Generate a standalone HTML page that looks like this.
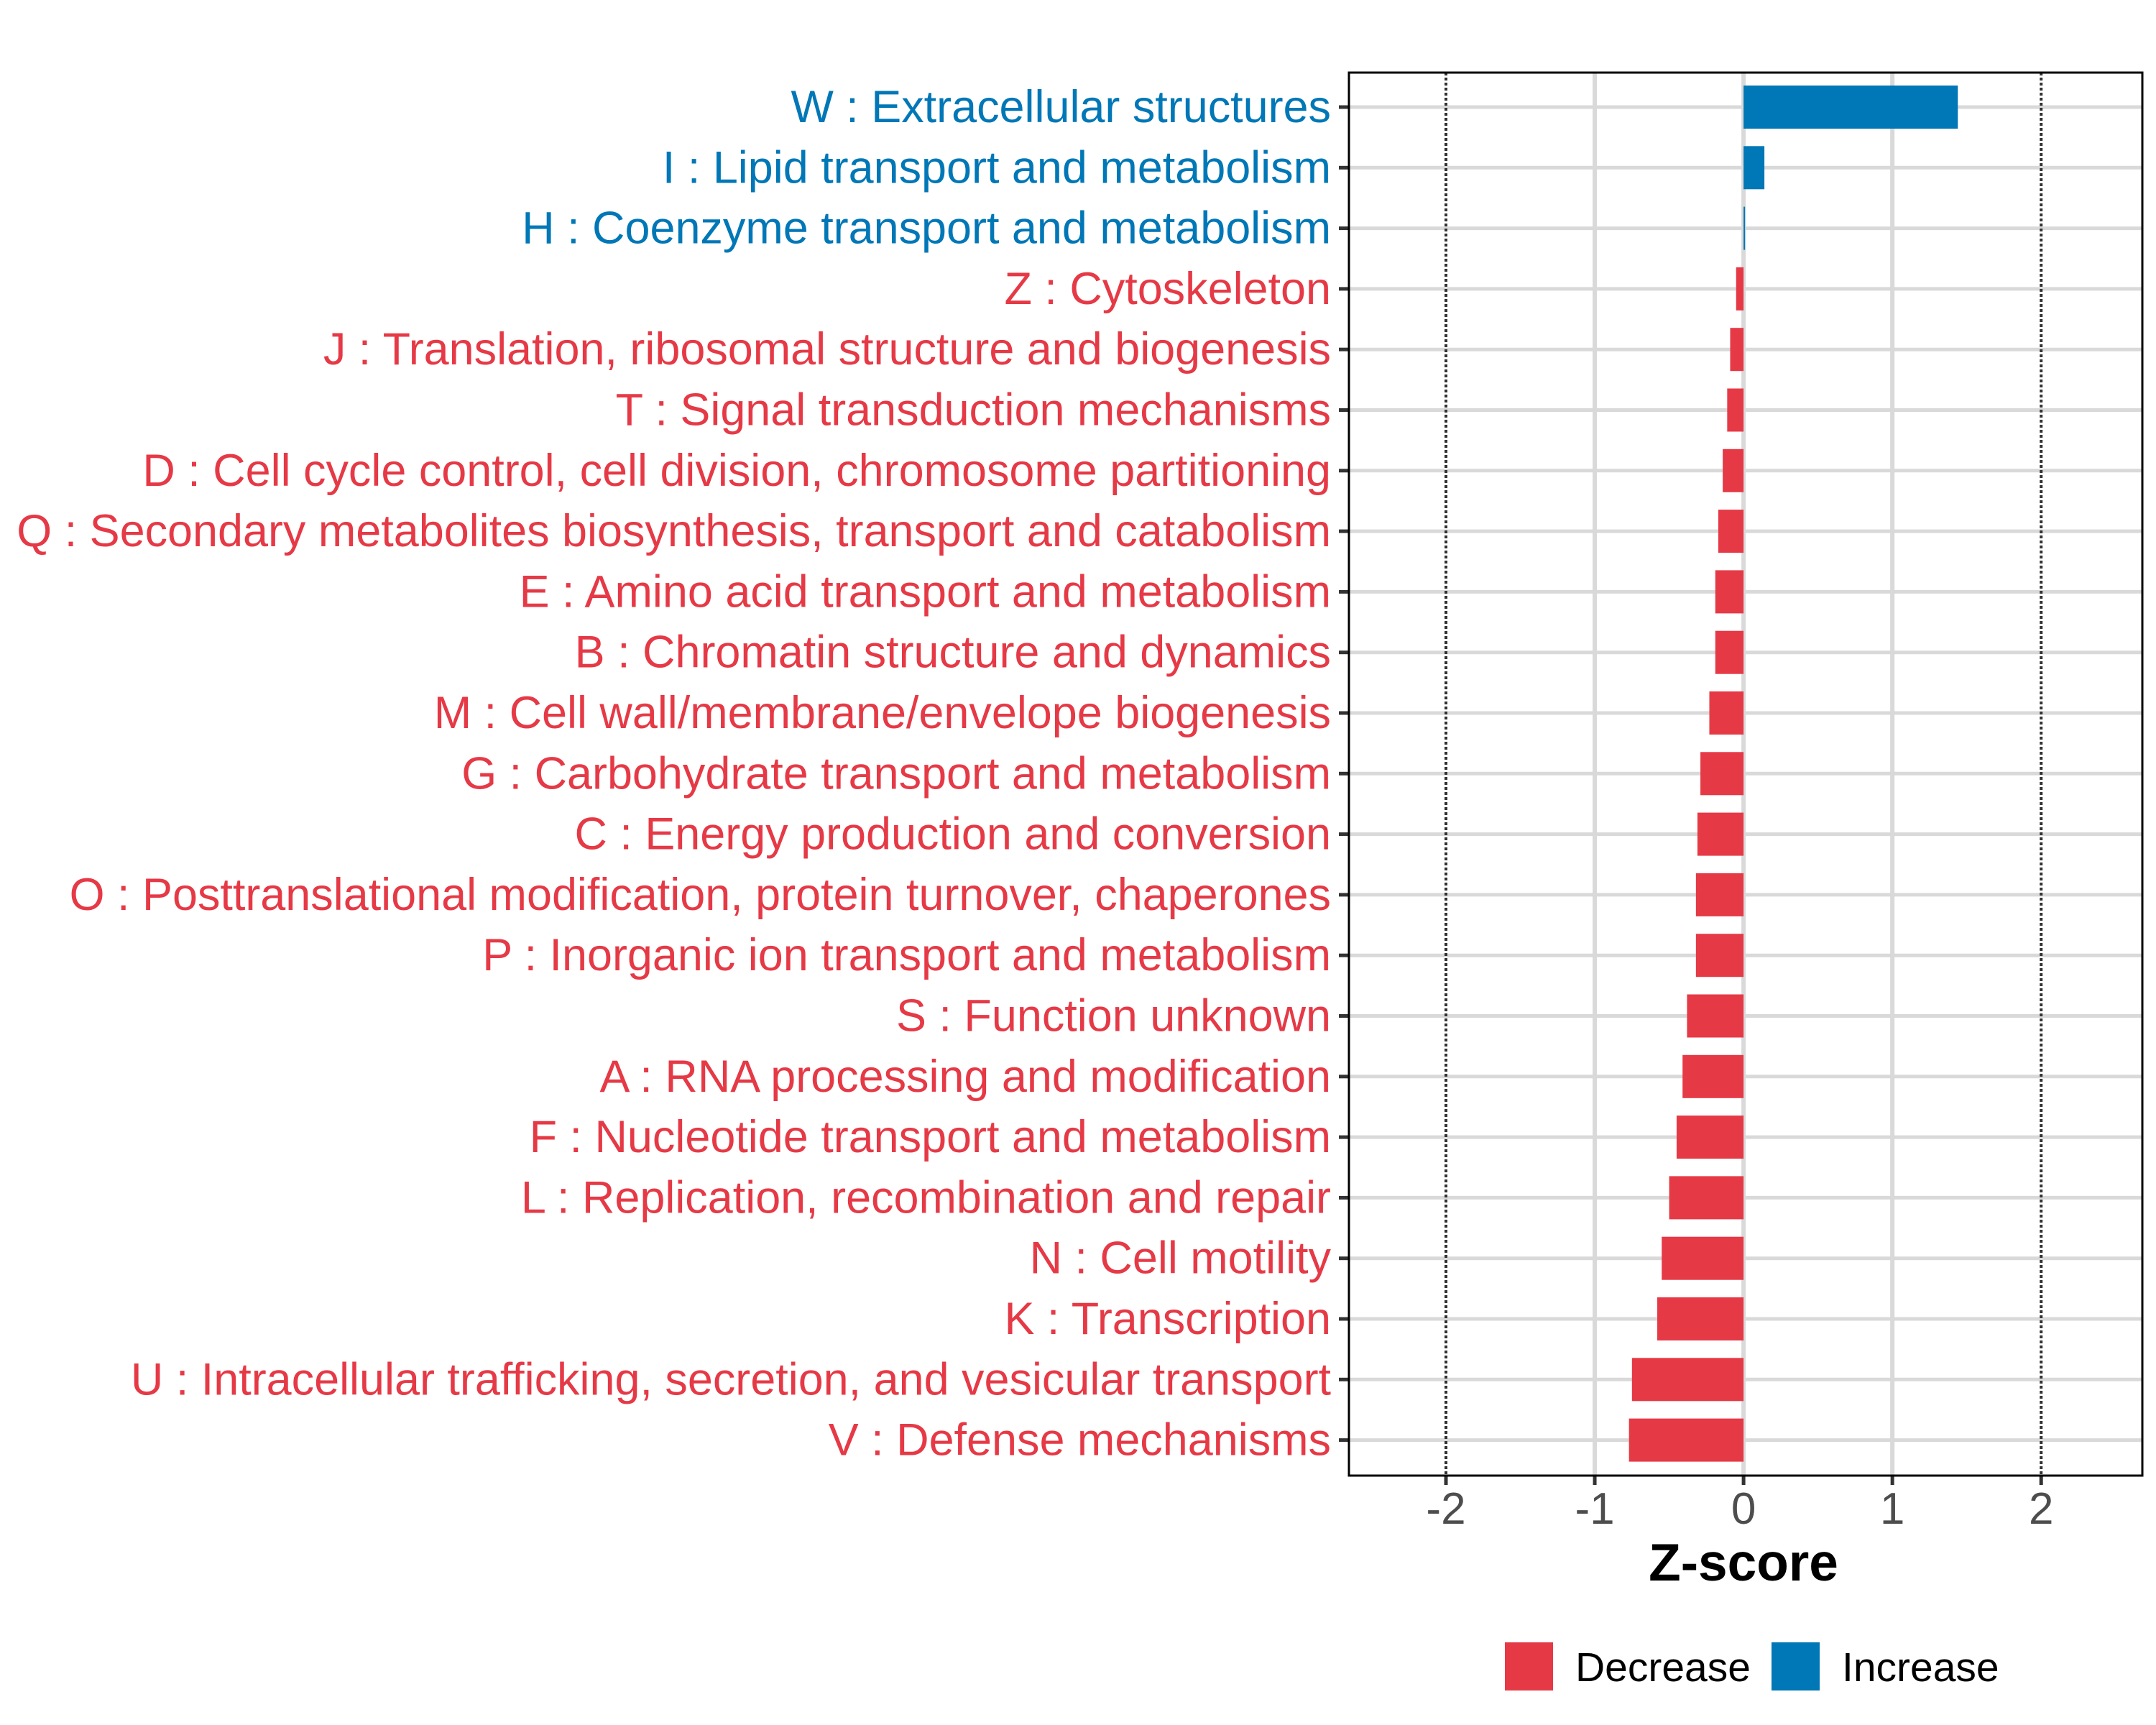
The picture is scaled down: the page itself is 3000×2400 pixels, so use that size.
<!DOCTYPE html>
<html><head><meta charset="utf-8"><style>
html,body{margin:0;padding:0;background:#fff;}
svg{display:block;font-family:"Liberation Sans",sans-serif;}
</style></head><body>
<svg id="chart" width="3000" height="2400" viewBox="0 0 3000 2400" xmlns="http://www.w3.org/2000/svg">
<rect width="3000" height="2400" fill="#fff"/>
<g id="grid"></g>
<g id="bars"></g>
<g id="ylabels"></g>
<g id="xaxis"></g>
<rect x="1877" y="101" width="1104" height="1952" fill="none" stroke="#000" stroke-width="3"/>
<text x="2426" y="2199" font-size="73" font-weight="bold" text-anchor="middle" fill="#000">Z-score</text>
<g>
<rect x="2094" y="2285" width="67" height="67" fill="#E63946"/>
<text x="2192" y="2339" font-size="57" fill="#000">Decrease</text>
<rect x="2465" y="2285" width="67" height="67" fill="#0077B6"/>
<text x="2563" y="2339" font-size="57" fill="#000">Increase</text>
</g>
</svg>
<script>
const categories = ["W : Extracellular structures","I : Lipid transport and metabolism","H : Coenzyme transport and metabolism","Z : Cytoskeleton","J : Translation, ribosomal structure and biogenesis","T : Signal transduction mechanisms","D : Cell cycle control, cell division, chromosome partitioning","Q : Secondary metabolites biosynthesis, transport and catabolism","E : Amino acid transport and metabolism","B : Chromatin structure and dynamics","M : Cell wall/membrane/envelope biogenesis","G : Carbohydrate transport and metabolism","C : Energy production and conversion","O : Posttranslational modification, protein turnover, chaperones","P : Inorganic ion transport and metabolism","S : Function unknown","A : RNA processing and modification","F : Nucleotide transport and metabolism","L : Replication, recombination and repair","N : Cell motility","K : Transcription","U : Intracellular trafficking, secretion, and vesicular transport","V : Defense mechanisms"];
const zscores = [1.44,0.14,0.01,-0.05,-0.09,-0.11,-0.14,-0.17,-0.19,-0.19,-0.23,-0.29,-0.31,-0.32,-0.32,-0.38,-0.41,-0.45,-0.50,-0.55,-0.58,-0.75,-0.77];
const xTicks = [-2,-1,0,1,2];
const xTickLabels = ["-2","-1","0","1","2"];
const thresholds = [-2,2];

const NS="http://www.w3.org/2000/svg";
const L=1877,R=2981,T=101,B=2053;
const xmin=-2.652,xmax=2.68;
function X(v){return L+(v-xmin)/(xmax-xmin)*(R-L);}
const step=84.3;
function Y(i){return 149+i*step;}
function mk(tag,attrs,parent){const e=document.createElementNS(NS,tag);for(const k in attrs)e.setAttribute(k,attrs[k]);parent.appendChild(e);return e;}
const grid=document.getElementById('grid'),bars=document.getElementById('bars'),yl=document.getElementById('ylabels'),xa=document.getElementById('xaxis');
const RED="#E63946",BLUE="#0077B6";
categories.forEach((c,i)=>{
  const g=mk('line',{x1:L,x2:R,y1:Y(i),y2:Y(i),stroke:"#d9d9d9","stroke-width":5},grid);
  
  
});
xTicks.forEach(v=>{
  if(thresholds.includes(v))return;
  const g=mk('line',{x1:X(v),x2:X(v),y1:T,y2:B,stroke:"#d9d9d9","stroke-width":6},grid);
  
  
});
thresholds.forEach(v=>{
  const g=mk('line',{x1:X(v),x2:X(v),y1:T,y2:B,stroke:"#333","stroke-width":4,"stroke-dasharray":"4 3"},grid);
  
  
});
const bh=60;
zscores.forEach((v,i)=>{
  const x0=X(0),x1=X(v);
  const r=mk('rect',{x:Math.min(x0,x1),y:Y(i)-bh/2,width:Math.max(Math.abs(x1-x0),1.5),height:bh,fill:v>=0?BLUE:RED},bars);
  
  
});
const labels=[];
categories.forEach((c,i)=>{
  const t=mk('text',{x:1852,y:Y(i)+21,"font-size":62,"text-anchor":"end",fill:zscores[i]>=0?BLUE:RED},yl);
  t.textContent=c;
  
  
  labels.push(t);
  const tk=mk('line',{x1:1863,x2:1877,y1:Y(i),y2:Y(i),stroke:"#333","stroke-width":5},yl);
  
  
});
try{
  const q=labels[7];const w=q.getComputedTextLength();
  const target=1852-23;
  if(w>0){const s=target/w;const fs=62*s;labels.forEach(t=>t.setAttribute('font-size',fs.toFixed(2)));}
}catch(e){}
xTicks.forEach((v,i)=>{
  const tk=mk('line',{x1:X(v),x2:X(v),y1:B,y2:2066,stroke:"#333","stroke-width":5},xa);
  
  
  const t=mk('text',{x:X(v),y:2120,"font-size":62,"text-anchor":"middle",fill:"#4d4d4d"},xa);
  t.textContent=xTickLabels[i];
  
  
});
</script>
</body></html>
